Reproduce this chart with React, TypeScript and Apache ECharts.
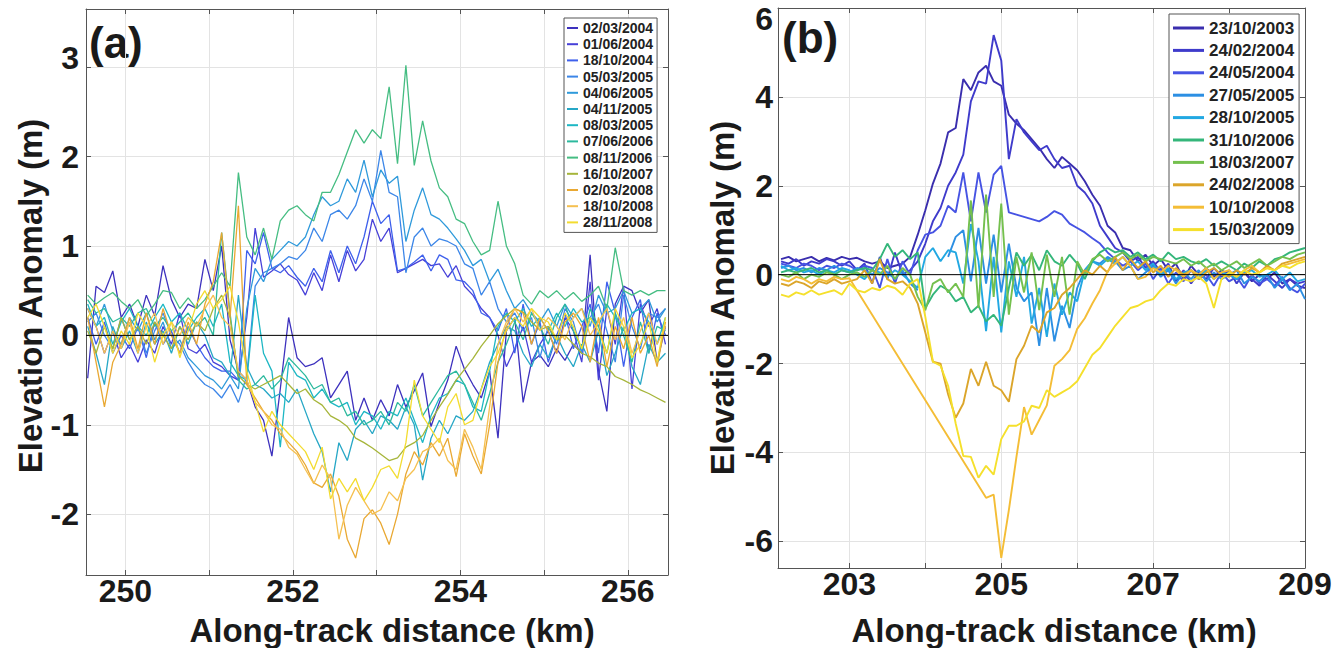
import React, { useEffect, useRef } from 'react';
import * as echarts from 'echarts';

const FONT = '"Liberation Sans", Arial, Helvetica, sans-serif';

// ---------- Panel (a): along-track distance (km) ----------
const distA = [
  249.55, 249.65, 249.75, 249.85, 249.95, 250.05, 250.15, 250.25, 250.35, 250.45,
  250.55, 250.65, 250.75, 250.85, 250.95, 251.05, 251.15, 251.25, 251.35, 251.45,
  251.55, 251.65, 251.75, 251.85, 251.95, 252.05, 252.15, 252.25, 252.35, 252.45,
  252.55, 252.65, 252.75, 252.85, 252.95, 253.05, 253.15, 253.25, 253.35, 253.45,
  253.55, 253.65, 253.75, 253.85, 253.95, 254.05, 254.15, 254.25, 254.35, 254.45,
  254.55, 254.65, 254.75, 254.85, 254.95, 255.05, 255.15, 255.25, 255.35, 255.45,
  255.55, 255.65, 255.75, 255.85, 255.95, 256.05, 256.15, 256.25, 256.35, 256.45,
];

// Elevation anomaly (m), panel (a)
const a_2004_03_02 = [
  -0.48, 0.55, 0.48, 0.72, 0.2, 0.35, 0.1, 0.45, 0.22, 0.78,
  0.4, 0.2, 0.35, 0.3, 0.85, 0.5, 1.0, -0.05, -0.4, -0.5,
  -0.8, -0.95, -1.35, -0.6, 0.2, -0.25, -0.35, -0.32, -0.25, -0.7,
  -0.55, -0.4, -0.95, -0.7, -0.95, -0.72, -0.9, -0.55, -0.8, -0.62,
  -0.42, -1.02, -0.75, -0.5, -0.12, -0.38, -0.55, -0.7, -0.4, -1.15,
  0.05, 0.2, -0.75, -0.3, -0.22, -0.35, -0.15, -0.28, -0.1, -0.2,
  0.9, -0.4, -0.85, 0.35, 0.55, 0.5, 0.25, 0.4, -0.3, 0.1,
];
const a_2004_06_01 = [
  0.3, 0.1, -0.2, 0.05, -0.25, -0.1, -0.3, -0.05, -0.2, 0.1,
  -0.1, 0.25, -0.15, -0.2, -0.1, -0.3, -0.35, -0.45, -0.5, 0.2,
  1.2, 0.65, 0.72, 0.8, 0.68, 0.62, 0.45, 0.7, 0.5, 0.9,
  0.6, 0.95, 0.72, 0.85, 1.3, 1.05, 1.2, 0.7, 0.75, 0.8,
  0.85, 0.78, 0.8, 0.65, 0.78, 0.55, 0.45, 0.3, 0.2, 0.0,
  -0.35, -0.15, 0.1, -0.3, -0.1, 0.05, -0.2, 0.2, 0.05, -0.3,
  0.6, -0.5, 0.3, -0.1, 0.55, -0.6, 0.35, 0.1, 0.3, -0.1,
];
const a_2004_10_18 = [
  0.2, -0.1, 0.15, -0.2, 0.0, -0.15, 0.1, -0.25, 0.15, -0.1,
  0.05, -0.2, 0.1, -0.1, -0.25, -0.35, -0.4, -0.4, -0.5, 0.95,
  0.8, 1.15, 0.75, 0.7, 0.78, 0.65, 0.55, 0.75, 0.6, 0.95,
  0.7, 1.0, 0.8, 1.1, 1.5, 1.25, 1.35, 0.72, 0.75, 0.82,
  0.9, 0.72, 0.9, 0.85, 0.62, 0.6, 0.5, 0.25, 0.2, 0.05,
  0.3, -0.2, 0.35, -0.1, 0.15, -0.3, 0.0, 0.25, -0.15, 0.1,
  0.35, -0.2, 0.6, 0.25, -0.35, 0.2, 0.4, -0.2, 0.25, 0.0,
];
const a_2005_03_05 = [
  0.15, 0.25, 0.0, -0.15, 0.2, -0.05, 0.1, -0.2, 0.05, 0.25,
  0.0, -0.1, -0.3, -0.45, -0.55, -0.6, -0.7, -0.55, -0.75, -0.45,
  0.55, 0.7, 0.75, 0.8, 0.88, 0.85, 0.95, 1.2, 1.05, 1.35,
  1.4, 1.3, 1.45, 1.75, 1.5, 2.07, 1.6, 1.55, 0.7, 1.1,
  1.2, 1.0, 1.08, 1.05, 1.0, 0.8, 0.75, 0.45, 0.6, 0.3,
  0.15, 0.25, 0.05, 0.2, -0.25, 0.1, -0.1, 0.3, 0.15, -0.2,
  0.2, 0.35, 0.05, -0.3, 0.45, 0.1, -0.15, 0.25, 0.2, 0.3,
];
const a_2005_06_04 = [
  0.3, 0.1, 0.35, 0.05, -0.1, 0.2, 0.05, 0.25, -0.05, 0.15,
  -0.15, -0.05, -0.25, -0.35, -0.45, -0.5, -0.6, -0.45, -0.6, 0.3,
  0.75, 0.6, 0.85, 0.95, 1.05, 1.0, 1.1, 1.35, 1.55, 1.45,
  1.5, 1.75, 1.6, 1.96, 1.55, 1.85, 1.7, 1.78, 1.05, 1.4,
  1.65, 1.35, 1.3, 1.2, 1.08, 0.95, 0.78, 0.85, 0.6, 0.74,
  0.5, 0.3, 0.4, 0.25, 0.15, 0.3, 0.1, 0.35, 0.2, 0.3,
  0.1, 0.45, 0.25, 0.3, 0.5, 0.25, 0.3, 0.4, 0.15, 0.3,
];
const a_2005_11_04 = [
  0.1, -0.2, -0.55, 0.1, -0.15, 0.05, -0.2, 0.15, -0.1, 0.05,
  -0.2, 0.1, -0.1, 0.15, 0.0, -0.25, -0.3, -0.45, 0.45, -0.35,
  -0.55, -0.6, -0.7, -0.65, -0.75, -0.6, -0.85, -1.1, -1.3, -1.75,
  -1.2, -1.4, -1.05, -0.95, -1.1, -0.9, -0.95, -1.05, -0.8, -1.0,
  -1.62, -1.15, -0.95, -1.1, -0.9, -0.95, -0.85, -0.6, -0.3, -0.1,
  0.1, 0.05, -0.2, -0.35, -0.1, -0.25, 0.0, -0.2, -0.35, -0.1,
  -0.3, 0.05, -0.45, -0.2, 0.1, -0.35, -0.55, -0.1, -0.3, -0.2,
];
const a_2005_03_08 = [
  0.35, 0.1, 0.2, -0.1, 0.15, 0.3, 0.1, 0.0, 0.2, 0.35,
  0.15, 0.25, 0.05, 0.2, 0.3, 0.1, 0.35, -0.3, -0.45, -0.5,
  0.45, -0.2, -0.4, -1.25, -0.3, -0.45, -0.5, -0.7, -0.6, -0.75,
  -0.8, -0.75, -1.0, -0.85, -0.9, -1.05, -0.85, -0.9, -0.7, -0.95,
  -1.2, -0.9, -0.7, -0.65, -0.5, -0.55, -0.8, -0.85, -0.4, 0.1,
  0.25, 0.15, 0.3, 0.1, 0.2, 0.05, 0.25, 0.1, 0.3, 0.15,
  0.2, 0.1, 0.35, 0.2, 0.05, 0.25, 0.3, 0.15, -0.1, 0.2,
];
const a_2006_06_07 = [
  0.4, 0.25, 0.3, 0.15, 0.2, 0.1, 0.25, 0.3, 0.1, 0.2,
  0.05, 0.15, 0.25, 0.1, 0.2, 0.0, 1.15, 0.25, -0.5, -0.6,
  -0.55, -0.45, -0.6, -0.5, -0.25, -0.35, -0.45, -0.6, -0.55, -0.75,
  -0.7, -0.9, -0.85, -1.0, -0.95, -0.85, -1.0, -0.75, -0.85, -0.55,
  -0.9, -0.75, -0.6, -0.45, -0.4, -0.55, -0.75, -0.95, -0.65, -0.3,
  -0.1, 0.15, -0.05, 0.25, 0.1, -0.1, 0.2, 0.35, 0.05, -0.15,
  0.3, 0.1, -0.2, 0.25, 0.0, -0.3, 0.15, -0.2, 0.1, 0.05,
];
const a_2006_11_08 = [
  0.45, 0.35, 0.42, 0.48, 0.38, 0.3, 0.4, 0.22, 0.35, 0.5,
  0.48, 0.3, 0.42, 0.3, 0.4, 0.55, 0.7, 0.55, 1.82, 1.1,
  0.9, 1.2, 0.85, 1.28, 1.4, 1.45, 1.35, 1.28, 1.6, 1.6,
  1.8, 2.05, 2.3, 2.15, 2.3, 2.2, 2.78, 1.92, 3.02, 1.9,
  2.4, 1.95, 1.65, 1.55, 1.3, 1.25, 1.05, 0.9, 0.95, 1.5,
  1.0, 0.8, 0.45, 0.35, 0.5, 0.42, 0.5, 0.4, 0.48, 0.38,
  0.45, 0.55, 0.3, 0.98, 0.5, 0.45, 0.5, 0.45, 0.5, 0.5,
];
const a_2007_10_16 = [
  0.05, -0.2, 0.1, -0.15, 0.2, -0.05, 0.1, -0.1, 0.15, 0.0,
  -0.15, 0.1, -0.05, 0.15, 0.05, 0.3, 0.45, 0.2, -0.45, -0.55,
  -0.6, -0.55, -0.5, -0.45, -0.55, -0.65, -0.6, -0.72, -0.78, -0.9,
  -0.95, -1.02, -1.15, -1.2, -1.26, -1.33, -1.4, -1.37, -1.25, -1.2,
  -1.12, -0.95, -0.8, -0.66, -0.5, -0.38, -0.26, -0.12, 0.0, 0.13,
  0.22, 0.3, 0.26, 0.15, 0.06, 0.1, -0.05, 0.0, -0.1, -0.2,
  -0.24, -0.31, -0.35, -0.46, -0.5, -0.55, -0.61, -0.65, -0.7, -0.75,
];
const a_2008_03_02 = [
  0.2, -0.3, -0.8, -0.3, -0.1, 0.2, -0.15, 0.25, -0.1, 0.3,
  0.0, -0.2, 0.15, -0.1, 0.35, 0.6, 1.15, 0.2, 1.45, -0.55,
  -0.7, -0.85, -0.95, -1.1, -1.2, -1.3, -1.45, -1.65, -1.7, -1.55,
  -1.8, -2.28, -2.49, -2.05, -1.95, -2.1, -2.34, -2.0, -1.55, -1.3,
  -1.45, -1.2, -1.35, -1.15, -1.58, -1.1, -1.35, -1.55, -1.0, -0.3,
  0.1, 0.3, 0.25, -0.1, 0.2, 0.05, -0.2, 0.15, 0.25, 0.1,
  -0.3, 0.2, -0.35, 0.1, -0.15, 0.2, -0.2, 0.0, -0.35, 0.15,
];
const a_2008_10_18 = [
  0.3, 0.1, -0.2, 0.05, -0.15, 0.15, -0.2, 0.1, 0.25, -0.1,
  0.15, 0.0, 0.2, 0.1, 0.3, 0.45, 0.2, 0.1, -0.4, -0.5,
  -0.75, -0.85, -1.0, -1.05, -1.25, -1.33, -1.5, -1.66, -1.45, -1.6,
  -2.28, -1.9, -1.7, -1.85, -2.0, -1.95, -1.75, -1.85, -1.6, -1.5,
  -1.3, -1.25, -1.15, -1.4, -1.5, -1.05, -1.25, -1.5, -0.8, -0.1,
  0.15, 0.3, 0.15, 0.3, 0.05, 0.2, 0.1, -0.05, 0.2, 0.3,
  0.0, 0.15, 0.3, -0.05, 0.2, -0.2, 0.05, 0.25, -0.1, 0.1,
];
const a_2008_11_28 = [
  0.2, 0.35, 0.1, -0.2, 0.05, -0.1, 0.25, 0.1, -0.3, 0.0,
  0.15, -0.25, 0.05, 0.35, 0.5, 0.3, 0.4, 0.55, 0.15, -0.4,
  -0.75, -1.08, -0.85, -1.0, -1.1, -1.2, -1.3, -1.5, -1.25, -1.83,
  -1.6, -1.75, -1.6, -1.85, -1.7, -1.5, -1.46, -1.6, -1.2, -0.5,
  -0.9, -1.05, -1.2, -0.8, -0.65, -1.0, -0.95, -0.6, -0.35, -0.2,
  0.05, 0.2, 0.1, 0.3, 0.2, 0.15, -0.05, 0.25, 0.1, -0.15,
  0.2, 0.05, -0.2, 0.3, 0.1, -0.25, -0.1, 0.15, -0.3, 0.2,
];

const namesA = [
  '02/03/2004', '01/06/2004', '18/10/2004', '05/03/2005', '04/06/2005', '04/11/2005', '08/03/2005',
  '07/06/2006', '08/11/2006', '16/10/2007', '02/03/2008', '18/10/2008', '28/11/2008',
];
const valuesA = [
  a_2004_03_02, a_2004_06_01, a_2004_10_18, a_2005_03_05, a_2005_06_04, a_2005_11_04, a_2005_03_08,
  a_2006_06_07, a_2006_11_08, a_2007_10_16, a_2008_03_02, a_2008_10_18, a_2008_11_28,
];
const colorsA = [
  '#3D31BE', '#4740D8', '#3E60EC', '#3C86E8', '#2F9ADB', '#26A7C6', '#1DB7C4',
  '#2CB99E', '#45BD82', '#A6B53A', '#E9A832', '#F5C050', '#F3DC30',
];

// ---------- Panel (b): along-track distance (km) ----------
const distB = [
  202.1, 202.2, 202.3, 202.4, 202.5, 202.6, 202.7, 202.8, 202.9, 203.0,
  203.1, 203.2, 203.3, 203.4, 203.5, 203.6, 203.7, 203.8, 203.9, 204.0,
  204.1, 204.2, 204.3, 204.4, 204.5, 204.6, 204.7, 204.8, 204.9, 205.0,
  205.1, 205.2, 205.3, 205.4, 205.5, 205.6, 205.7, 205.8, 205.9, 206.0,
  206.1, 206.2, 206.3, 206.4, 206.5, 206.6, 206.7, 206.8, 206.9, 207.0,
  207.1, 207.2, 207.3, 207.4, 207.5, 207.6, 207.7, 207.8, 207.9, 208.0,
  208.1, 208.2, 208.3, 208.4, 208.5, 208.6, 208.7, 208.8, 208.9, 209.0,
];

// Elevation anomaly (m), panel (b); null = no return
const b_2003_10_23 = [
  0.35, 0.4, 0.3, 0.35, 0.4, 0.3, 0.38, 0.32, 0.4, 0.35,
  0.38, 0.3, 0.25, 0.3, 0.15, 0.2, 0.25, 0.4, 0.9, 1.45,
  2.05, 2.5, 3.2, 3.3, 4.4, 4.15, 4.55, 4.7, 4.35, 4.25,
  3.6, 3.4, 3.25, 3.05, 2.85, 2.6, 2.4, 2.65, 2.5, 2.35,
  2.1, 1.8, 1.55, 1.1, 0.95, 0.6, 0.55, 0.3, 0.45, 0.2,
  0.35, 0.1, 0.25, -0.1, 0.2, 0.0, 0.15, -0.05, 0.1, 0.0,
  -0.1, 0.05, -0.15, 0.0, -0.1, 0.05, -0.2, -0.1, -0.25, -0.3,
];
const b_2004_02_24 = [
  0.3, 0.25, 0.35, 0.2, 0.3, 0.25, 0.35, 0.3, 0.2, 0.3,
  0.1, 0.25, -0.2, 0.4, -0.1, 0.5, 0.0, 0.1, 0.3, 0.7,
  1.2, 1.5, 2.0, 2.3, 2.7, 3.9, 4.35, 4.3, 5.39, 4.82,
  2.6, 3.5, 3.2, 3.0, 2.8, 2.9, 2.6, 2.4, 2.45, 2.0,
  1.85, 1.6, 1.1, 0.85, 0.6, 0.5, 0.3, 0.4, 0.15, 0.3,
  0.05, 0.25, -0.15, 0.1, -0.2, 0.05, -0.1, 0.15, -0.05, 0.1,
  -0.2, 0.05, -0.1, -0.25, 0.0, -0.15, -0.3, -0.1, -0.2, -0.15,
];
const b_2004_05_24 = [
  0.25, 0.2, 0.15, 0.25, 0.2, 0.1, 0.2, 0.15, 0.25, 0.2,
  0.1, 0.2, 0.15, -0.3, 0.35, -0.2, 0.3, 0.0, 0.55, 0.9,
  0.95, 1.1, 1.55, 1.4, 2.3, 1.2, 2.3, 1.4, 2.25, 2.45,
  1.4, 1.35, 1.3, 1.25, 1.2, 1.3, 1.43, 1.35, 1.15, 1.05,
  0.95, 0.82, 0.7, 0.5, 0.35, 0.2, 0.3, 0.1, 0.25, -0.1,
  0.15, -0.2, 0.05, -0.15, 0.1, -0.1, 0.0, -0.25, 0.05, -0.15,
  -0.05, -0.3, 0.0, -0.2, -0.1, -0.25, -0.05, -0.3, -0.4, -0.2,
];
const b_2005_05_27 = [
  0.15, 0.2, 0.1, 0.15, 0.05, 0.15, 0.1, 0.2, 0.1, 0.05,
  0.15, 0.1, 0.0, 0.15, 0.05, -0.1, 0.1, -0.2, -0.35, null,
  null, null, 0.4, 0.85, 1.0, -0.15, 1.05, -0.2, 0.9, -0.4,
  0.7, -0.3, -0.6, -0.4, -1.6, -0.3, -1.5, -0.7, -1.2, -0.3,
  0.1, 0.3, 0.25, 0.4, 0.3, 0.1, 0.2, -0.1, 0.05, 0.2,
  -0.05, 0.1, -0.2, 0.05, -0.1, 0.1, -0.15, 0.05, -0.1, 0.0,
  0.1, -0.2, -0.05, -0.15, 0.0, -0.3, -0.1, -0.35, -0.2, -0.55,
];
const b_2005_10_28 = [
  0.2, 0.1, 0.15, 0.05, 0.1, 0.0, 0.1, 0.05, 0.15, 0.1,
  0.0, -0.1, 0.1, 0.05, -0.05, 0.1, 0.0, -0.15, -0.3, 0.4,
  0.6, 0.3, 0.55, 0.5, -0.2, 1.14, 0.3, -1.27, 0.4, -1.3,
  0.3, -0.5, 0.4, -1.1, -0.3, -1.4, -0.2, -0.9, -0.4, -0.6,
  0.1, 0.3, 0.2, 0.35, 0.25, 0.4, 0.2, 0.3, 0.1, 0.25,
  0.0, 0.15, -0.1, 0.05, 0.1, -0.05, 0.1, -0.1, 0.05, 0.0,
  -0.1, 0.05, 0.1, -0.05, 0.0, 0.1, -0.1, 0.05, -0.15, -0.1,
];
const b_2006_10_31 = [
  0.05, 0.1, 0.05, 0.1, 0.15, 0.05, 0.1, 0.0, 0.1, 0.05,
  0.1, 0.15, 0.1, 0.35, 0.7, 0.4, 0.55, 0.35, 0.5, -0.75,
  -0.45, -0.25, -0.35, -0.6, -0.5, -0.85, -0.7, -1.05, -0.9, -1.15,
  -0.3, 0.5, 0.2, 0.45, 0.1, 0.55, 0.3, 0.2, 0.45, 0.25,
  -0.1, 0.3, 0.5, 0.6, 0.5, 0.55, 0.4, 0.5, 0.35, 0.45,
  0.3, 0.5, 0.35, 0.4, 0.3, 0.25, 0.35, 0.2, 0.3, 0.2,
  0.1, 0.25, 0.15, 0.3, 0.2, 0.35, 0.4, 0.5, 0.55, 0.6,
];
const b_2007_03_18 = [
  0.0, -0.05, 0.05, -0.1, 0.0, -0.05, 0.05, 0.0, -0.1, 0.0,
  0.05, -0.05, 0.1, 0.0, 0.2, -0.1, 0.15, 0.0, -0.5, -0.8,
  -0.2, -0.1, -0.4, -0.2, -0.5, 1.67, -0.75, 1.8, -0.5, 1.6,
  -0.9, 0.4, -0.4, 0.5, -0.8, 0.45, -0.5, 0.4, -0.9, 0.3,
  0.0, 0.35, 0.45, 0.3, 0.4, 0.5, 0.35, 0.45, 0.3, 0.4,
  0.35, 0.3, 0.25, 0.35, 0.2, 0.3, 0.15, 0.25, 0.1, 0.2,
  0.3, 0.15, 0.25, 0.35, 0.2, 0.3, 0.4, 0.35, 0.45, 0.5,
];
const b_2008_02_24 = [
  -0.2, -0.25, -0.15, -0.2, -0.3, -0.15, -0.2, -0.1, -0.2, -0.15,
  -0.1, 0.1, -0.2, 0.35, -0.1, -0.2, -0.15, -0.3, -0.65, -1.3,
  -1.96, -2.0, -2.69, -3.22, -2.9, -2.12, -2.5, -1.96, -2.5, -2.6,
  -2.86, -1.9, -1.6, -1.15, -1.3, -0.85, -0.75, -0.45, -0.3, -0.1,
  0.1, 0.0, 0.2, 0.05, 0.4, 0.1, 0.35, 0.15, 0.3, 0.05,
  0.2, -0.05, 0.15, 0.0, 0.1, -0.1, 0.05, 0.15, 0.0, -0.05,
  0.1, 0.0, 0.15, 0.05, 0.2, 0.1, 0.25, 0.3, 0.35, 0.4,
];
const b_2008_10_10 = [
  -0.1, -0.15, -0.05, -0.1, -0.2, -0.1, -0.15, -0.05, -0.1, -0.08,
  null, null, null, null, null, null, null, null, null, null,
  null, null, null, null, null, null, null, -5.02, -4.95, -6.37,
  -5.3, -4.1, -2.98, -3.6, -3.27, -2.94, -2.05, -1.9, -1.7, -1.22,
  -0.98, -0.65, -0.35, 0.08, 0.25, 0.4, 0.2, -0.1, -0.05, 0.15,
  0.05, 0.2, 0.1, -0.05, 0.1, 0.0, 0.15, -0.1, 0.05, 0.1,
  -0.05, 0.1, 0.2, 0.05, 0.15, 0.1, 0.2, 0.25, 0.3, 0.35,
];
const b_2009_03_15 = [
  -0.45, -0.5, -0.4, -0.45, -0.35, -0.45, -0.4, -0.35, -0.45, -0.2,
  -0.35, -0.4, -0.3, -0.35, -0.25, -0.3, -0.45, -0.2, -0.1, -0.95,
  -1.96, -2.05, -2.5, -3.35, -4.08, -4.1, -4.57, -4.3, -4.5, -3.7,
  -3.4, -3.4, -3.3, -2.95, -3.0, -2.6, -2.75, -2.65, -2.55, -2.4,
  -2.1, -1.8, -1.65, -1.4, -1.15, -0.95, -0.75, -0.7, -0.6, -0.55,
  -0.35, -0.2, -0.25, -0.1, -0.15, -0.05, -0.2, -0.75, -0.1, 0.05,
  -0.05, 0.1, 0.0, 0.05, 0.15, 0.1, 0.2, 0.15, 0.25, 0.3,
];

const namesB = [
  '23/10/2003', '24/02/2004', '24/05/2004', '27/05/2005', '28/10/2005',
  '31/10/2006', '18/03/2007', '24/02/2008', '10/10/2008', '15/03/2009',
];
const valuesB = [
  b_2003_10_23, b_2004_02_24, b_2004_05_24, b_2005_05_27, b_2005_10_28,
  b_2006_10_31, b_2007_03_18, b_2008_02_24, b_2008_10_10, b_2009_03_15,
];
const colorsB = [
  '#3A2EAE', '#3F3BCB', '#4653E3', '#2C8FE3', '#22A8E2',
  '#34B67A', '#74C04E', '#DBA52A', '#F4BD36', '#F5E02C',
];

// Axis extents
const xRangeA = [249.53, 256.48];
const yRangeA = [-2.68, 3.65];
const xRangeB = [202.06, 209];
const yRangeB = [-6.6, 6];

const AXIS_COLOR = '#555';
const GRID_COLOR = '#e3e3e3';
const LABEL_COLOR = '#1a1a1a';
const TICK_FONT = 32;
const TITLE_FONT = 33;

const isInt = (v: number) => Math.abs(v - Math.round(v)) < 1e-6;

function pairs(dist: number[], vals: (number | null)[]) {
  return dist.map((d, i) => [d, vals[i]]);
}

const tickText = {
  fontFamily: FONT,
  fontSize: TICK_FONT,
  fontWeight: 'bold',
  color: LABEL_COLOR,
  lineHeight: 26,
};

function mainXAxis(gridIndex: number, range: number[], step: number, keep: (v: number) => boolean) {
  return {
    type: 'value',
    gridIndex,
    position: 'bottom',
    min: range[0],
    max: range[1],
    minInterval: step,
    maxInterval: step,
    axisLine: { show: true, onZero: false, lineStyle: { color: AXIS_COLOR, width: 1 } },
    axisTick: { show: true, inside: true, length: 5, lineStyle: { color: AXIS_COLOR } },
    axisLabel: {
      show: true,
      ...tickText,
      margin: 3,
      formatter: (v: number) => (isInt(v) && keep(Math.round(v)) ? String(Math.round(v)) : ''),
    },
    splitLine: { show: true, lineStyle: { color: GRID_COLOR, width: 1 } },
  };
}

function mirrorAxis(gridIndex: number, range: number[], step: number, position: string) {
  return {
    type: 'value',
    gridIndex,
    position,
    min: range[0],
    max: range[1],
    minInterval: step,
    maxInterval: step,
    axisLine: { show: true, onZero: false, lineStyle: { color: AXIS_COLOR, width: 1 } },
    axisTick: { show: true, inside: true, length: 5, lineStyle: { color: AXIS_COLOR } },
    axisLabel: { show: false },
    splitLine: { show: false },
  };
}

// The top tick label of each panel sits a little off its tick: "lift" moves it up, "drop" moves it down.
function mainYAxis(gridIndex: number, range: number[], step: number, margin: number, lifted?: number, dropped?: number) {
  return {
    type: 'value',
    gridIndex,
    position: 'left',
    min: range[0],
    max: range[1],
    minInterval: step,
    maxInterval: step,
    axisLine: { show: true, onZero: false, lineStyle: { color: AXIS_COLOR, width: 1 } },
    axisTick: { show: true, inside: true, length: 5, lineStyle: { color: AXIS_COLOR } },
    axisLabel: {
      show: true,
      ...tickText,
      margin,
      formatter: (v: number) => {
        if (!isInt(v)) return '';
        const r = Math.round(v);
        if (lifted !== undefined && r === lifted) return '{lift|' + r + '}';
        if (dropped !== undefined && r === dropped) return '{drop|' + r + '}';
        return String(r);
      },
      rich: {
        lift: { ...tickText, padding: [0, 0, 18, 0] },
        drop: { ...tickText, padding: [22, 0, 0, 0] },
      },
    },
    splitLine: { show: true, lineStyle: { color: GRID_COLOR, width: 1 } },
  };
}

function titleText(x: number, y: number, text: string, rotation = 0) {
  return {
    type: 'text',
    x,
    y,
    rotation,
    style: {
      text,
      fontFamily: FONT,
      fontSize: TITLE_FONT,
      fontWeight: 'bold',
      lineHeight: 30,
      fill: LABEL_COLOR,
      align: 'center',
      verticalAlign: 'middle',
    },
  };
}

function buildOption() {
  const series: any[] = [];
  valuesA.forEach((vals, i) => {
    series.push({
      type: 'line',
      name: namesA[i],
      xAxisIndex: 0,
      yAxisIndex: 0,
      data: pairs(distA, vals),
      symbol: 'none',
      showSymbol: false,
      color: colorsA[i],
      lineStyle: { color: colorsA[i], width: 1.3 },
      silent: true,
    });
  });
  series.push({
    type: 'line',
    name: 'zeroA',
    xAxisIndex: 0,
    yAxisIndex: 0,
    data: [[xRangeA[0], 0], [xRangeA[1], 0]],
    symbol: 'none',
    color: '#000',
    lineStyle: { color: '#000', width: 1 },
    silent: true,
  });
  valuesB.forEach((vals, i) => {
    series.push({
      type: 'line',
      name: namesB[i],
      xAxisIndex: 2,
      yAxisIndex: 2,
      data: pairs(distB, vals),
      symbol: 'none',
      showSymbol: false,
      connectNulls: namesB[i] === '10/10/2008',
      color: colorsB[i],
      lineStyle: { color: colorsB[i], width: 1.9 },
      silent: true,
    });
  });
  series.push({
    type: 'line',
    name: 'zeroB',
    xAxisIndex: 2,
    yAxisIndex: 2,
    data: [[xRangeB[0], 0], [xRangeB[1], 0]],
    symbol: 'none',
    color: '#000',
    lineStyle: { color: '#000', width: 1 },
    silent: true,
  });

  const legendText = (size: number, lh: number) => ({
    fontFamily: FONT,
    fontSize: size,
    fontWeight: 'bold',
    color: '#222',
    lineHeight: lh,
  });

  return {
    animation: false,
    backgroundColor: '#fff',
    textStyle: { fontFamily: FONT },
    grid: [
      { left: 86, top: 9, width: 582, height: 566, containLabel: false, outerBoundsMode: 'none' },
      { left: 778, top: 8, width: 527, height: 560, containLabel: false, outerBoundsMode: 'none' },
    ],
    xAxis: [
      mainXAxis(0, xRangeA, 1, (v) => v % 2 === 0),
      mirrorAxis(0, xRangeA, 1, 'top'),
      mainXAxis(1, xRangeB, 1, (v) => Math.abs(v % 2) === 1),
      mirrorAxis(1, xRangeB, 1, 'top'),
    ],
    yAxis: [
      mainYAxis(0, yRangeA, 1, 7, 3, undefined),
      mirrorAxis(0, yRangeA, 1, 'right'),
      mainYAxis(1, yRangeB, 2, 5, undefined, 6),
      mirrorAxis(1, yRangeB, 2, 'right'),
    ],
    legend: [
      {
        orient: 'vertical',
        left: 564,
        top: 18,
        data: namesA,
        icon: 'rect',
        itemWidth: 11,
        itemHeight: 2,
        itemGap: 0.2,
        padding: [2, 4, 2, 3],
        borderColor: '#555',
        borderWidth: 1,
        backgroundColor: '#fff',
        selectedMode: false,
        textStyle: legendText(14, 16),
      },
      {
        orient: 'vertical',
        left: 1169,
        top: 14,
        data: namesB,
        icon: 'rect',
        itemWidth: 31,
        itemHeight: 3,
        itemGap: 2.4,
        padding: [4, 5, 4, 4],
        borderColor: '#555',
        borderWidth: 1,
        backgroundColor: '#fff',
        selectedMode: false,
        textStyle: legendText(17, 20),
      },
    ],
    graphic: [
      {
        type: 'text', x: 89, y: 42,
        style: { text: '(a)', fontFamily: FONT, fontSize: 44, fontWeight: 'bold', fill: LABEL_COLOR, align: 'left', verticalAlign: 'middle' },
      },
      {
        type: 'text', x: 782, y: 37,
        style: { text: '(b)', fontFamily: FONT, fontSize: 44, fontWeight: 'bold', fill: LABEL_COLOR, align: 'left', verticalAlign: 'middle' },
      },
      titleText(30, 296, 'Elevation Anomaly (m)', Math.PI / 2),
      titleText(722, 298, 'Elevation Anomaly (m)', Math.PI / 2),
      titleText(392, 630, 'Along-track distance (km)'),
      titleText(1054, 630, 'Along-track distance (km)'),
    ],
    series,
  };
}

export default function App() {
  const ref = useRef<HTMLDivElement>(null);
  useEffect(() => {
    if (!ref.current) return;
    const chart = echarts.init(ref.current, null, { renderer: 'svg' });
    chart.setOption(buildOption() as any);
    return () => chart.dispose();
  }, []);
  return (
    <div
      ref={ref}
      style={{ position: 'absolute', left: 0, top: 0, width: 1333, height: 648, background: '#fff' }}
    />
  );
}
